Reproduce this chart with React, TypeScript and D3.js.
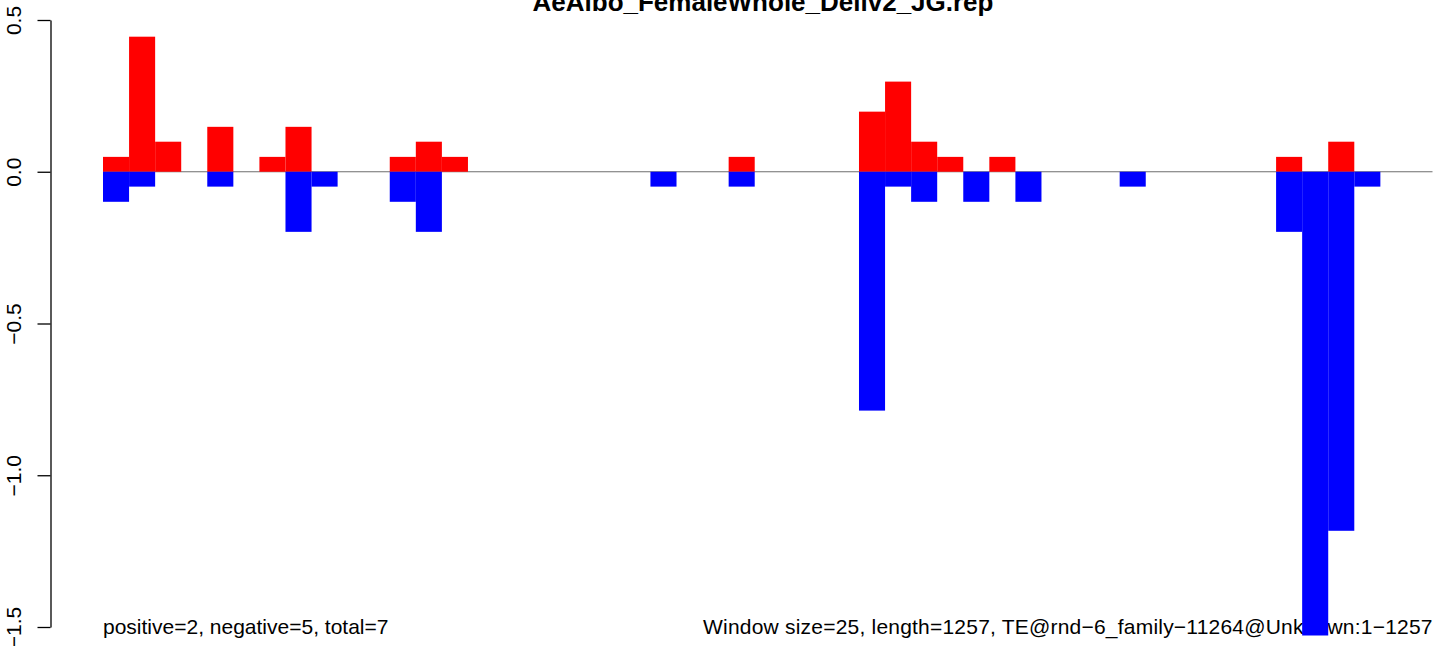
import React, { useEffect, useRef } from 'react';
import * as d3 from 'd3';

// 창(window) 별 값: 25bp 창 51개, 0 은 막대 없음
const posValues = [
  0.049, 0.445, 0.099, 0, 0.148, 0, 0.049, 0.148, 0, 0,
  0, 0.049, 0.099, 0.049, 0, 0, 0, 0, 0, 0,
  0, 0, 0, 0, 0.049, 0, 0, 0, 0, 0.198,
  0.297, 0.099, 0.049, 0, 0.049, 0, 0, 0, 0, 0,
  0, 0, 0, 0, 0, 0.049, 0, 0.099, 0, 0,
  0,
];
const negValues = [
  -0.099, -0.049, 0, 0, -0.049, 0, 0, -0.198, -0.049, 0,
  0, -0.099, -0.198, 0, 0, 0, 0, 0, 0, 0,
  0, -0.049, 0, 0, -0.049, 0, 0, 0, 0, -0.787,
  -0.049, -0.099, 0, -0.099, 0, -0.099, 0, 0, 0, -0.049,
  0, 0, 0, 0, 0, -0.198, -1.528, -1.183, -0.049, 0,
  0,
];
const yTicks = [-1.5, -1.0, -0.5, 0.0, 0.5];

const TITLE = 'AeAlbo_FemaleWhole_Deliv2_JG.rep';
const LEFT_NOTE = 'positive=2, negative=5, total=7';
const RIGHT_NOTE = 'Window size=25, length=1257, TE@rnd\u22126_family\u221211264@Unknown:1\u22121257';

const W = 1444;
const H = 646;
const FONT = '"Liberation Sans", Arial, Helvetica, sans-serif';

export default function App() {
  const ref = useRef<SVGSVGElement>(null);

  useEffect(() => {
    const svg = d3.select(ref.current);
    svg.selectAll('*').remove();

    const nWin = posValues.length;
    const x = d3.scaleLinear().domain([0, nWin]).range([103, 1432.5]);
    const y = d3.scaleLinear().domain([-1.5, 0.5]).range([627, 20]);

    // 제목 (위쪽이 잘려 있음)
    svg.append('text')
      .attr('x', 763)
      .attr('y', 10.5)
      .attr('text-anchor', 'middle')
      .attr('font-family', FONT)
      .attr('font-weight', 'bold')
      .attr('font-size', 26)
      .text(TITLE);

    // y 축
    const axis = d3.axisLeft(y)
      .tickValues(yTicks)
      .tickSize(13)
      .tickSizeOuter(0)
      .tickFormat(d3.format('.1f'));
    const g = svg.append('g').attr('transform', 'translate(50.5,0)').call(axis);
    g.select('.domain').attr('stroke', '#000').attr('stroke-width', 1.3);
    g.selectAll('.tick line').attr('stroke', '#000').attr('stroke-width', 1.3);
    g.selectAll('.tick text')
      .attr('x', null)
      .attr('dy', null)
      .attr('transform', 'translate(-29.5,0) rotate(-90)')
      .attr('text-anchor', 'middle')
      .attr('font-family', FONT)
      .attr('font-size', 21)
      .attr('fill', '#000');

    // 0 기준선
    svg.append('line')
      .attr('x1', x(0)).attr('x2', x(nWin))
      .attr('y1', y(0)).attr('y2', y(0))
      .attr('stroke', '#6e6e6e')
      .attr('stroke-width', 1.2);

    // 아래 텍스트 (막대보다 먼저 그림)
    svg.append('text')
      .attr('x', x(0))
      .attr('y', 634)
      .attr('font-family', FONT)
      .attr('font-size', 21)
      .text(LEFT_NOTE);
    svg.append('text')
      .attr('x', 703)
      .attr('y', 634)
      .attr('textLength', x(nWin) - 703)
      .attr('lengthAdjust', 'spacing')
      .attr('font-family', FONT)
      .attr('font-size', 21)
      .text(RIGHT_NOTE);

    // 막대
    const idx = d3.range(nWin);
    svg.append('g').selectAll('rect')
      .data(idx.filter(i => posValues[i] > 0))
      .join('rect')
      .attr('x', i => x(i))
      .attr('width', i => x(i + 1) - x(i))
      .attr('y', i => y(posValues[i]))
      .attr('height', i => y(0) - y(posValues[i]))
      .attr('fill', '#ff0000');
    svg.append('g').selectAll('rect')
      .data(idx.filter(i => negValues[i] < 0))
      .join('rect')
      .attr('x', i => x(i))
      .attr('width', i => x(i + 1) - x(i))
      .attr('y', y(0))
      .attr('height', i => y(negValues[i]) - y(0))
      .attr('fill', '#0000ff');
  }, []);

  return (
    <svg
      ref={ref}
      width={W}
      height={H}
      style={{ position: 'absolute', left: 0, top: 0, background: '#fff' }}
    />
  );
}
